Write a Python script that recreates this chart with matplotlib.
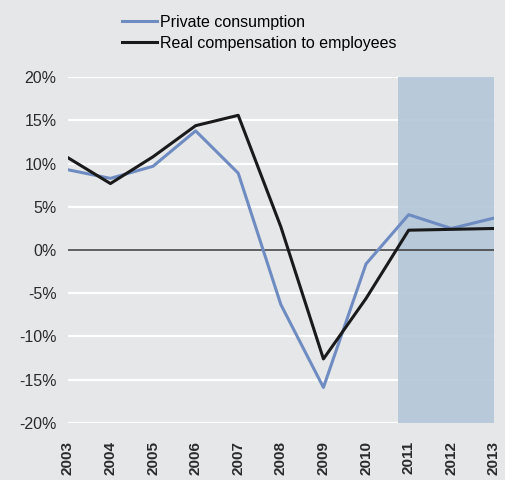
import matplotlib.pyplot as plt
import matplotlib.ticker as mticker

years = list(range(2003, 2014))
private_consumption = [9.3, 8.3, 9.7, 13.8, 8.9, -6.3, -15.9, -1.6, 4.1, 2.5, 3.7]
real_compensation = [10.7, 7.7, 10.8, 14.4, 15.6, 2.7, -12.6, -5.6, 2.3, 2.4, 2.5]
forecast_start = 2010.75
forecast_end = 2013.05

plt.rcParams['font.family'] = ['Liberation Sans', 'DejaVu Sans']

bg = '#e6e7e9'
fig = plt.figure(figsize=(5.06, 4.8), dpi=100, facecolor=bg)
ax = fig.add_axes([0.134, 0.119, 0.842, 0.72], facecolor=bg)

ax.set_ylim(-20, 20)
ax.set_xlim(2003, 2013)
ax.yaxis.set_major_locator(mticker.MultipleLocator(5))
ax.yaxis.set_major_formatter(mticker.FuncFormatter(lambda v, p: '%d%%' % v))
ax.grid(axis='y', color='white', lw=1.6, zorder=1)
ax.set_axisbelow(True)

ax.axvspan(forecast_start, forecast_end, ymin=0, ymax=1, color='#b3c6d8', alpha=0.9, lw=0, zorder=2)
ax.axhline(0, color='#444444', lw=1.2, zorder=3)

ax.plot(years, private_consumption, color='#6f8cc2', lw=2.2, label='Private consumption', zorder=4)
ax.plot(years, real_compensation, color='#1a1a1a', lw=2.2, label='Real compensation to employees', zorder=5)

ax.set_xticks(years)
ax.set_xticklabels([str(y) for y in years], rotation=90, fontweight='bold', fontsize=11, color='#2a2a2a')
for lab in ax.get_yticklabels():
    lab.set_fontsize(11.5)
    lab.set_color('#2a2a2a')
ax.tick_params(axis='y', length=0, pad=8)
ax.tick_params(axis='x', length=0, pad=13)
for s in ax.spines.values():
    s.set_visible(False)

fig.legend(loc='upper left', bbox_to_anchor=(0.228, 0.982), frameon=False, fontsize=11.5,
           handlelength=2.2, handletextpad=0.2, labelspacing=0.35, borderaxespad=0)

fig.savefig('out.png', dpi=100, facecolor=bg)
